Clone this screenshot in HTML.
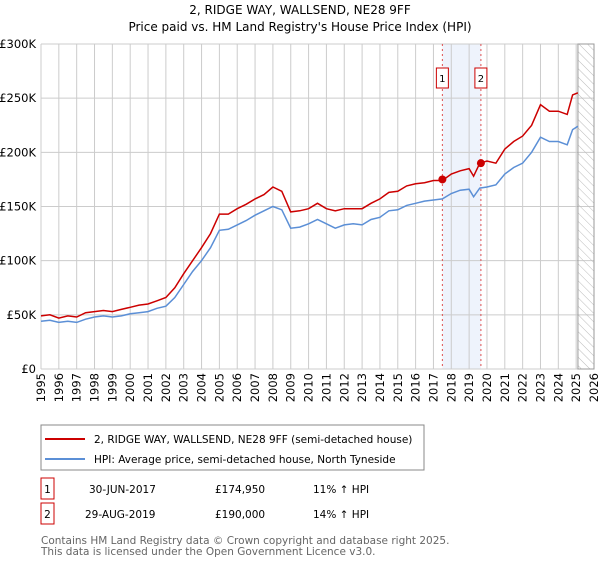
<!DOCTYPE html>
<html><head><meta charset="utf-8"><style>
body{margin:0;background:#fff;font-family:"DejaVu Sans","Liberation Sans",sans-serif;}
svg text{font-family:"DejaVu Sans","Liberation Sans",sans-serif;}
</style></head><body>
<svg id="c" width="600" height="560">
<defs><pattern id="hatch" width="6" height="6" patternUnits="userSpaceOnUse" patternTransform="rotate(-45)"><line x1="0" y1="0" x2="0" y2="6" stroke="#bbb" stroke-width="1"/></pattern></defs>
<text x="300" y="14" text-anchor="middle" font-size="12">2, RIDGE WAY, WALLSEND, NE28 9FF</text>
<text x="300" y="31" text-anchor="middle" font-size="12">Price paid vs. HM Land Registry's House Price Index (HPI)</text>
<g id="grid"></g><g id="series"></g><g id="axes"></g>
<g>
<rect x="41" y="425" width="383" height="45" fill="#fff" stroke="#888"/>
<line x1="45" y1="439" x2="85" y2="439" stroke="#cc0000" stroke-width="2"/>
<text x="94" y="443" font-size="10.5">2, RIDGE WAY, WALLSEND, NE28 9FF (semi-detached house)</text>
<line x1="45" y1="459" x2="85" y2="459" stroke="#5b8fd6" stroke-width="2"/>
<text x="94" y="463" font-size="10.5">HPI: Average price, semi-detached house, North Tyneside</text>
</g>
<g font-size="10.5">
<rect x="41" y="478" width="13" height="21" fill="#fff" stroke="#cc0000"/><text x="47.5" y="493" text-anchor="middle">1</text>
<text x="89" y="493">30-JUN-2017</text><text x="215" y="493">£174,950</text><text x="313" y="493">11% ↑ HPI</text>
<rect x="41" y="503" width="13" height="21" fill="#fff" stroke="#cc0000"/><text x="47.5" y="518" text-anchor="middle">2</text>
<text x="85" y="518">29-AUG-2019</text><text x="215" y="518">£190,000</text><text x="313" y="518">14% ↑ HPI</text>
</g>
<text x="41" y="544" font-size="10.5" fill="#666">Contains HM Land Registry data © Crown copyright and database right 2025.</text>
<text x="41" y="555" font-size="10.5" fill="#666">This data is licensed under the Open Government Licence v3.0.</text>
</svg>
<script>
const years=[1995,1995.5,1996,1996.5,1997,1997.5,1998,1998.5,1999,1999.5,2000,2000.5,2001,2001.5,2002,2002.5,2003,2003.5,2004,2004.5,2005,2005.5,2006,2006.5,2007,2007.5,2008,2008.5,2009,2009.5,2010,2010.5,2011,2011.5,2012,2012.5,2013,2013.5,2014,2014.5,2015,2015.5,2016,2016.5,2017,2017.5,2018,2018.5,2019,2019.25,2019.6,2020,2020.5,2021,2021.5,2022,2022.5,2023,2023.5,2024,2024.5,2024.8,2025.1];
const hpiValues=[44,45,43,44,43,46,48,49,48,49,51,52,53,56,58,66,78,90,100,112,128,129,133,137,142,146,150,147,130,131,134,138,134,130,133,134,133,138,140,146,147,151,153,155,156,157,162,165,166,159,167,168,170,180,186,190,200,214,210,210,207,221,224];
const propValues=[49,50,47,49,48,52,53,54,53,55,57,59,60,63,66,75,88,100,112,125,143,143,148,152,157,161,168,164,145,146,148,153,148,146,148,148,148,153,157,163,164,169,171,172,174,174,180,183,185,178,190,192,190,203,210,215,225,244,238,238,235,253,255];
const saleYears=[2017.5,2019.66];
const salePrices=[174.95,190];
const saleLabels=["1","2"];
const yTicks=[0,50,100,150,200,250,300];
const yTickLabels=["£0","£50K","£100K","£150K","£200K","£250K","£300K"];
const xTicks=[];for(let y=1995;y<=2026;y++)xTicks.push(y);
const X0=41,X1=594,Y0=369,Y1=44;
const x=v=>X0+(v-1995)/(2026-1995)*(X1-X0);
const y=v=>Y0-(v/300)*(Y0-Y1);
const NS="http://www.w3.org/2000/svg";
function mk(tag,at,parent){const e=document.createElementNS(NS,tag);for(const k in at)e.setAttribute(k,at[k]);parent.appendChild(e);return e;}
const grid=document.getElementById('grid'),ser=document.getElementById('series'),ax=document.getElementById('axes');
let band=mk('rect',{x:x(saleYears[0]),y:Y1,width:x(saleYears[1])-x(saleYears[0]),height:Y0-Y1,fill:'#eef3fc'},grid);

xTicks.forEach(t=>{const l=mk('line',{x1:x(t),x2:x(t),y1:Y1,y2:Y0,stroke:'#ccc'},grid);
});
yTicks.forEach(t=>{const l=mk('line',{x1:X0,x2:X1,y1:y(t),y2:y(t),stroke:'#ccc'},grid);
});
let h=mk('rect',{x:x(2025.1),y:Y1,width:X1-x(2025.1),height:Y0-Y1,fill:'url(#hatch)',stroke:'#999'},grid);

saleYears.forEach((s,i)=>{const l=mk('line',{x1:x(s),x2:x(s),y1:Y1,y2:Y0,stroke:'#e05050','stroke-dasharray':'2,3'},grid);

const r=mk('rect',{x:x(s)-6,y:68,width:12,height:20,fill:'#fff',stroke:'#cc0000'},grid);

const t=mk('text',{x:x(s),y:82,'text-anchor':'middle','font-size':10},grid);t.textContent=saleLabels[i];
});
function path(vals,col,name){const d=years.map((yr,i)=>(i?'L':'M')+x(yr).toFixed(1)+','+y(vals[i]).toFixed(1)).join('');
const p=mk('path',{d:d,fill:'none',stroke:col,'stroke-width':1.5},ser);
}
path(hpiValues,'#5b8fd6','hpi-line');
path(propValues,'#cc0000','property-line');
saleYears.forEach((s,i)=>{const c=mk('circle',{cx:x(s),cy:y(salePrices[i]),r:4,fill:'#cc0000'},ser);
});
yTicks.forEach((t,i)=>{const e=mk('text',{x:X0-5,y:y(t)+4,'text-anchor':'end','font-size':11.5},ax);e.textContent=yTickLabels[i];
});
xTicks.forEach(t=>{const e=mk('text',{x:0,y:0,'text-anchor':'end','font-size':11.5,transform:`translate(${x(t)+4},${Y0+4}) rotate(-90)`},ax);e.textContent=t;
});
</script>
</body></html>
